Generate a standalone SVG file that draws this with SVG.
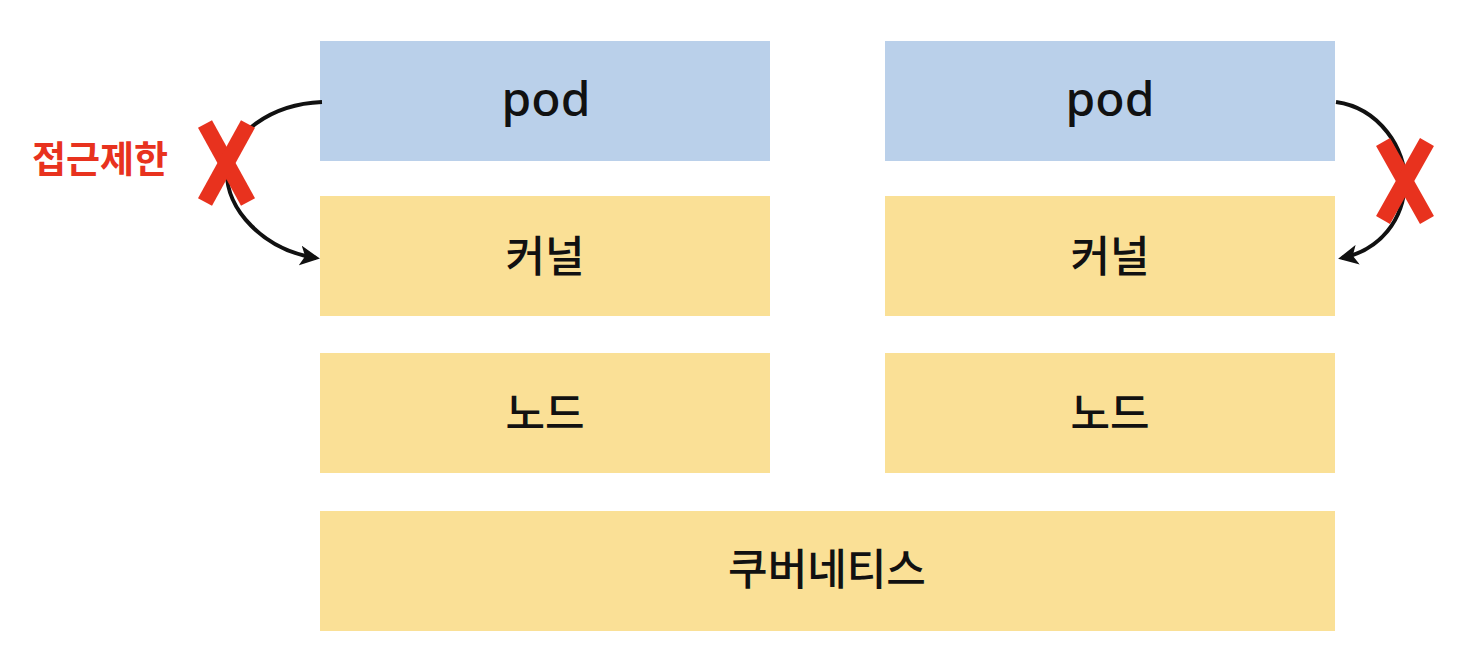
<svg xmlns="http://www.w3.org/2000/svg" width="1460" height="656" viewBox="0 0 1460 656">
<defs>
<style>
.blue{fill:#BAD0EA}
.yel{fill:#FAE096}
.lbl{font-family:"Noto Sans CJK KR","Noto Sans",sans-serif;font-size:43px;font-weight:500;fill:#111;text-anchor:middle;dominant-baseline:central}
.pod{font-family:"Noto Sans","Noto Sans CJK KR",sans-serif;font-size:48px;font-weight:500;fill:#111;text-anchor:middle;dominant-baseline:central}
.conn{fill:none;stroke:#111;stroke-width:4}
.x{stroke:#E8321E;stroke-width:16;stroke-linecap:butt}
</style>
<marker id="arr" viewBox="0 0 10 10" refX="8" refY="5" markerWidth="5" markerHeight="5" orient="auto" markerUnits="strokeWidth">
<path d="M0,0 L10,5 L0,10 L2.5,5 z" fill="#111"/>
</marker>
</defs>
<rect width="1460" height="656" fill="#fff"/>
<g id="pod-left"><rect class="blue" x="320" y="41" width="450" height="120"/><text class="pod" x="546" y="97">pod</text></g>
<g id="pod-right"><rect class="blue" x="885" y="41" width="450" height="120"/><text class="pod" x="1110" y="97">pod</text></g>
<g id="kernel-left"><rect class="yel" x="320" y="196" width="450" height="120"/><text class="lbl" x="545" y="253">커널</text></g>
<g id="kernel-right"><rect class="yel" x="885" y="196" width="450" height="120"/><text class="lbl" x="1110" y="253">커널</text></g>
<g id="node-left"><rect class="yel" x="320" y="353" width="450" height="120"/><text class="lbl" x="545" y="410">노드</text></g>
<g id="node-right"><rect class="yel" x="885" y="353" width="450" height="120"/><text class="lbl" x="1110" y="410">노드</text></g>
<g id="kubernetes"><rect class="yel" x="320" y="511" width="1015" height="120"/><text class="lbl" x="827" y="566">쿠버네티스</text></g>
<g id="connectors">
<path class="conn" d="M322,102 C270,104 230,135 227,168 C224,210 265,250 316,258" marker-end="url(#arr)"/>
<path class="conn" d="M1336,102 C1380,108 1406,150 1405,182 C1404,220 1380,250 1342,258" marker-end="url(#arr)"/>
</g>
<g id="restrict-left">
<line class="x" x1="205" y1="124" x2="248" y2="202"/>
<line class="x" x1="248" y1="124" x2="205" y2="202"/>
<text x="100" y="157" font-family="'Noto Sans CJK KR',sans-serif" font-size="37" font-weight="bold" fill="#E8321E" text-anchor="middle" dominant-baseline="central">접근제한</text>
</g>
<g id="restrict-right">
<line class="x" x1="1383" y1="142" x2="1427" y2="220"/>
<line class="x" x1="1427" y1="142" x2="1383" y2="220"/>
</g>
</svg>
